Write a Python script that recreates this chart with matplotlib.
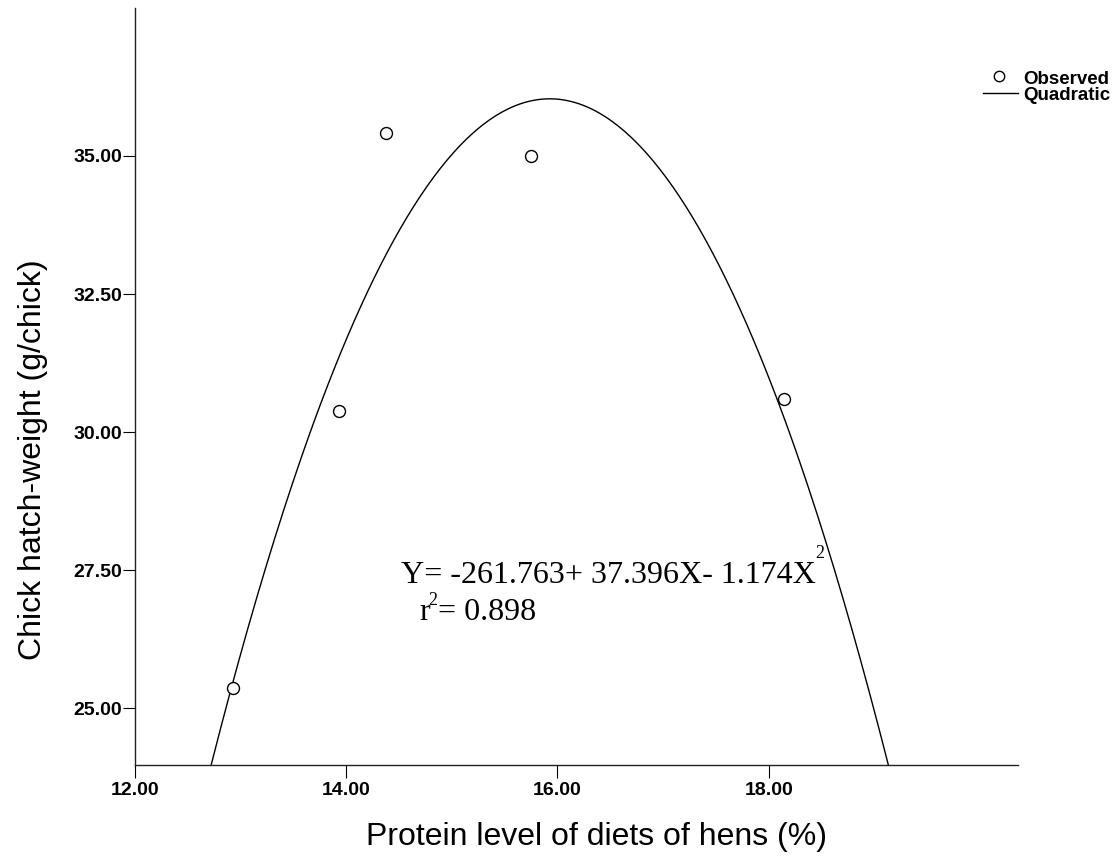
import matplotlib.pyplot as plt
import numpy as np
from matplotlib.lines import Line2D

plt.rcParams['font.family'] = ['Liberation Sans', 'DejaVu Sans']

# observed chick hatch-weight per dietary protein level
protein = [12.93, 13.93, 14.38, 15.75, 18.14]
weight = [25.36, 30.38, 35.42, 35.00, 30.60]

# quadratic fit coefficients (b0 + b1*X + b2*X^2) and r^2
b0, b1, b2 = -261.763, 37.396, -1.174
r2 = 0.898

x_ticks = [12, 14, 16, 18]
y_ticks = [25, 27.5, 30, 32.5, 35]

W, H = 1116, 861
fig = plt.figure(figsize=(W / 100, H / 100), dpi=100)
ax = fig.add_axes([135 / W, 1 - 765 / H, (1018 - 135) / W, (765 - 8) / H])

# fitted curve
xs = np.linspace(12, 20.36, 400)
ax.plot(xs, b0 + b1 * xs + b2 * xs ** 2, color='black', lw=1.0)

# observed points
ax.plot(protein, weight, 'o', ms=8.6, mfc='white', mec='black', mew=1.0,
        linestyle='none', clip_on=False)

ax.set_xlim(12, 20.36)
ax.set_ylim(23.97, 37.68)
ax.set_xticks(x_ticks)
ax.set_yticks(y_ticks)
ax.set_xticklabels([f'{v:.2f}' for v in x_ticks], fontsize=14, fontweight='bold')
ax.set_yticklabels([f'{v:.2f}' for v in y_ticks], fontsize=14, fontweight='bold')
ax.tick_params(axis='x', direction='out', length=9, width=0.8, pad=3)
ax.tick_params(axis='y', direction='out', length=9, width=0.8, pad=0.5)

for side in ['top', 'right']:
    ax.spines[side].set_visible(False)
for side in ['left', 'bottom']:
    ax.spines[side].set_linewidth(1.0)
    ax.spines[side].set_color('#222222')

# equation of the fit, with small raised exponents
serif = dict(family='Liberation Serif')
line1 = ax.text(14.52, 27.26, f'Y= {b0:.3f}+ {b1:.3f}X- {-b2:.3f}X', fontsize=23,
                ha='left', va='baseline', **serif)
ax.annotate('2', xy=(1, 27.26), xycoords=(line1, 'data'), xytext=(-0.5, 18),
            textcoords='offset points', fontsize=13, ha='left', va='baseline', **serif)

line2 = ax.text(14.69, 26.59, 'r', fontsize=23, ha='left', va='baseline', **serif)
sup2 = ax.annotate('2', xy=(1, 26.59), xycoords=(line2, 'data'), xytext=(-1, 11),
                   textcoords='offset points', fontsize=13, ha='left', va='baseline',
                   **serif)
ax.annotate(f'= {r2:.3f}', xy=(1, 26.59), xycoords=(sup2, 'data'), xytext=(0.5, 0),
            textcoords='offset points', fontsize=23, ha='left', va='baseline', **serif)

# axis titles
fig.text(596 / W, 1 - 845 / H, 'Protein level of diets of hens (%)',
         fontsize=23, ha='center', va='baseline')
fig.text(33 / W, 1 - 460 / H, 'Chick hatch-weight (g/chick)',
         fontsize=23, ha='center', va='center', rotation=90)

# legend drawn outside the plot area
fig.add_artist(Line2D([999 / W], [1 - 76 / H], marker='o', ms=7.5, mfc='white',
                      mec='black', mew=1.0, linestyle='none'))
fig.add_artist(Line2D([983 / W, 1018 / W], [1 - 93 / H, 1 - 93 / H],
                      color='black', lw=1.0))
fig.text(1023 / W, 1 - 80 / H, 'Observed', fontsize=13.5, fontweight='bold',
         ha='left', va='center')
fig.text(1023 / W, 1 - 96 / H, 'Quadratic', fontsize=13.5, fontweight='bold',
         ha='left', va='center')

fig.savefig('out.png', dpi=100)
